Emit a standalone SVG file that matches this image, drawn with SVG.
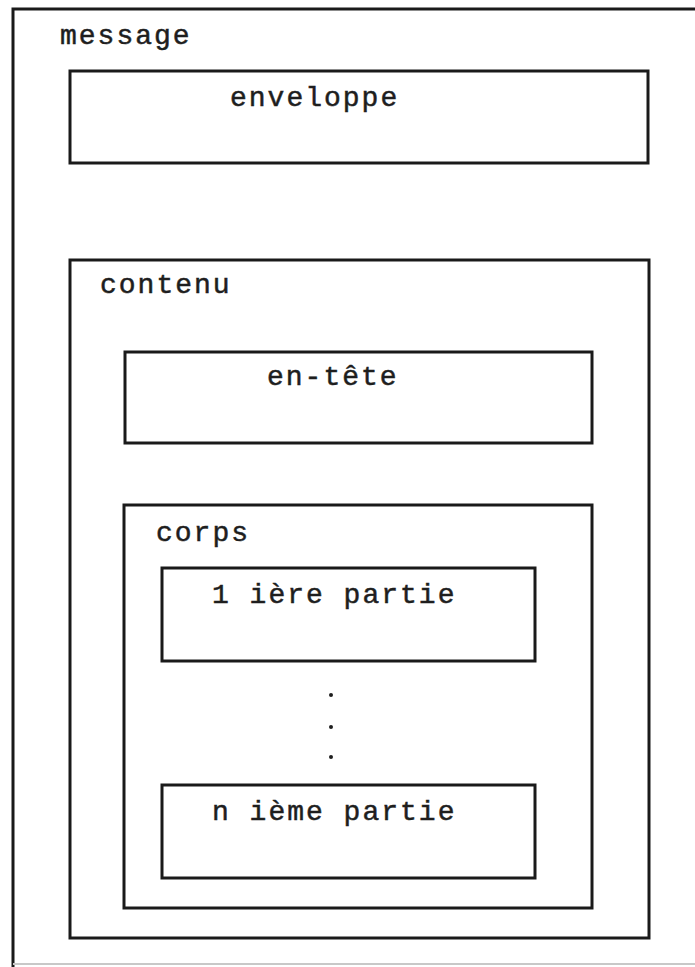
<svg xmlns="http://www.w3.org/2000/svg" width="695" height="967" viewBox="0 0 695 967">
<style>
.box{fill:none;stroke:#1a1a1a;stroke-width:3}
.lbl{font-family:"Liberation Mono","DejaVu Sans Mono",monospace;font-size:28px;letter-spacing:2px;fill:#1e1e1e;stroke:#1e1e1e;stroke-width:0.5}
.dot{fill:#1e1e1e}
</style>
<rect width="695" height="967" fill="#fff"/>
<g id="message">
<path class="box" d="M700,9 L13,9 L13,967"/>
<path d="M13,964 L700,964" fill="none" stroke="#c8c8c8" stroke-width="2"/>
<text class="lbl" x="60" y="44">message</text>
</g>
<g id="enveloppe">
<rect class="box" x="70" y="71" width="578" height="92"/>
<text class="lbl" x="230" y="106">enveloppe</text>
</g>
<g id="contenu">
<rect class="box" x="70" y="260" width="579" height="678"/>
<text class="lbl" x="100" y="293">contenu</text>
</g>
<g id="en-tete">
<rect class="box" x="125" y="352" width="467" height="91"/>
<text class="lbl" x="267" y="385">en-tête</text>
</g>
<g id="corps">
<rect class="box" x="124" y="505" width="468" height="403"/>
<text class="lbl" x="156" y="541">corps</text>
</g>
<g id="partie1">
<rect class="box" x="162" y="568" width="373" height="93"/>
<text class="lbl" x="212" y="603">1 ière partie</text>
</g>
<g id="ellipsis">
<circle class="dot" cx="331" cy="695" r="2"/>
<circle class="dot" cx="331" cy="727" r="2"/>
<circle class="dot" cx="331" cy="757" r="2"/>
</g>
<g id="partieN">
<rect class="box" x="162" y="785" width="373" height="93"/>
<text class="lbl" x="212" y="820">n ième partie</text>
</g>
<g id="connectors"></g>
</svg>
